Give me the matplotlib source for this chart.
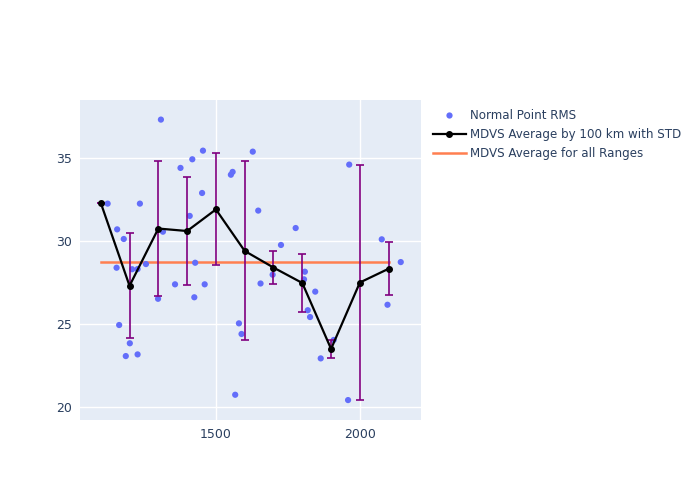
import numpy as np
import matplotlib
matplotlib.use("Agg")
import matplotlib.pyplot as plt
from matplotlib.lines import Line2D

# normal point RMS samples (range km, rms)
point_range = [1124, 1309, 1236, 1157, 1180, 1155, 1209, 1228, 1257, 1164, 1201, 1187,
               1228, 1316, 1299, 1377, 1418, 1455, 1452, 1409, 1428, 1358, 1425, 1461,
               1552, 1558, 1628, 1647, 1655, 1580, 1589, 1567, 1777, 1726, 1697, 1809,
               1806, 1845, 1819, 1827, 1864, 1909, 1963, 1959, 2076, 2142, 2096]
point_rms = [32.25, 37.31, 32.25, 30.70, 30.12, 28.39, 28.30, 28.31, 28.61, 24.94, 23.84, 23.07,
             23.17, 30.56, 26.52, 34.40, 34.92, 35.44, 32.89, 31.51, 28.69, 27.39, 26.61, 27.39,
             33.99, 34.16, 35.38, 31.83, 27.44, 25.04, 24.40, 20.74, 30.78, 29.76, 27.97, 28.15,
             27.69, 26.95, 25.83, 25.42, 22.93, 24.04, 34.60, 20.42, 30.10, 28.73, 26.16]

# averages per 100 km bin
bin_range = [1100, 1200, 1300, 1400, 1500, 1600, 1700, 1800, 1900, 2000, 2100]
bin_avg = [32.3, 27.3, 30.75, 30.6, 31.9, 29.4, 28.4, 27.47, 23.5, 27.5, 28.33]
bin_std = [0.0, 3.16, 4.06, 3.25, 3.37, 5.39, 1.0, 1.74, 0.55, 7.08, 1.6]

overall_avg = 28.73

labels = ["Normal Point RMS", "MDVS Average by 100 km with STD", "MDVS Average for all Ranges"]

fig = plt.figure(figsize=(7, 5), dpi=100)
ax = fig.add_axes([0.1143, 0.16, 0.487, 0.64])
ax.set_facecolor("#E5ECF6")

ax.scatter(point_range, point_rms, s=20, color="#636EFA", edgecolors="none", zorder=3)
ax.errorbar(bin_range, bin_avg, yerr=bin_std, color="black", lw=1.6,
            marker="o", markersize=4, ecolor="#800080", elinewidth=1.2,
            capsize=3.2, capthick=1.2, zorder=4)
ax.plot([bin_range[0], bin_range[-1]], [overall_avg, overall_avg], color="#FF7F50",
        lw=1.8, zorder=2)

ax.set_xlim(1028, 2212)
ax.set_ylim(19.22, 38.49)
ax.set_xticks([1500, 2000])
ax.set_yticks([20, 25, 30, 35])
ax.grid(True, color="white", lw=1)
ax.set_axisbelow(True)
for s in ax.spines.values():
    s.set_visible(False)
ax.tick_params(length=0, labelsize=9, colors="#2a3f5f", pad=6)

handles = [
    Line2D([], [], ls="none", marker="o", markersize=4.5, color="#636EFA", markeredgewidth=0),
    Line2D([], [], color="black", lw=1.6, marker="o", markersize=4),
    Line2D([], [], color="#FF7F50", lw=1.8),
]
fig.legend(handles, labels, loc="upper left", bbox_to_anchor=(0.619, 0.782),
           frameon=False, fontsize=8.6, labelcolor="#2a3f5f", handlelength=2.7,
           handletextpad=0.35, labelspacing=0.52, borderaxespad=0, borderpad=0)

fig.savefig("out.png")
